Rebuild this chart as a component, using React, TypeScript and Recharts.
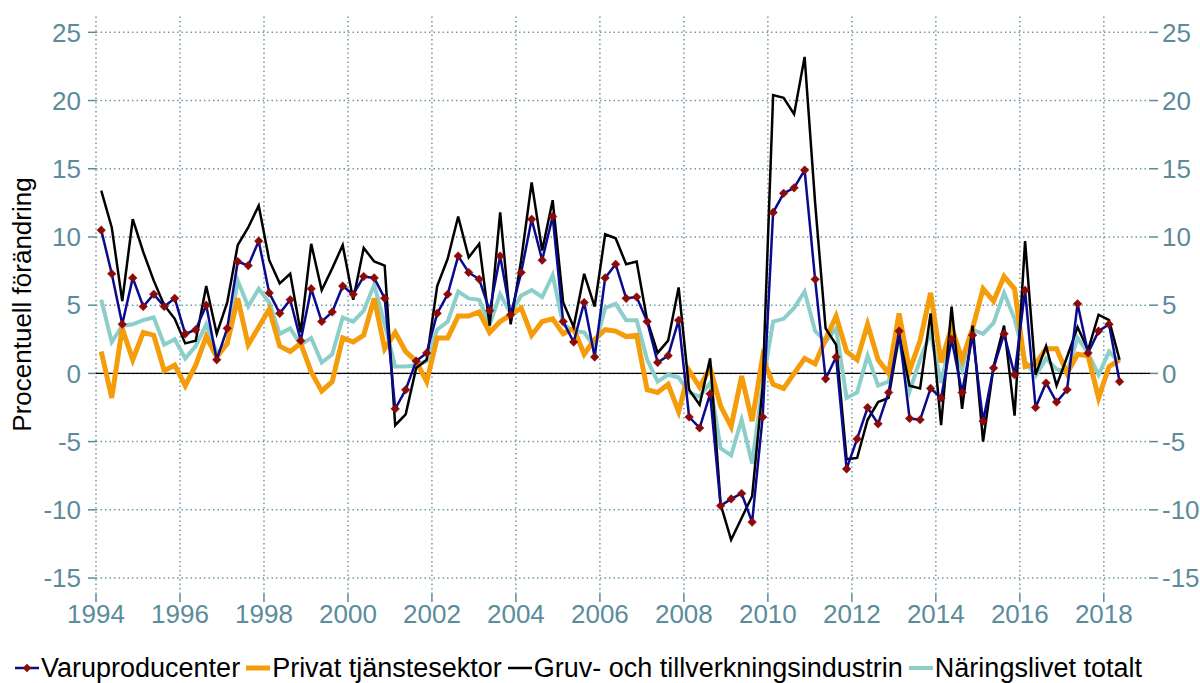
import { LineChart, Line, XAxis, YAxis, ReferenceLine } from "recharts";

// Quarterly data, 1994 Q1 - 2018 Q2
const startYear = 1994;

const varuproducenter = [
  10.5, 7.3, 3.6, 7.0, 4.9, 5.8, 4.9, 5.5, 2.9, 3.2, 5.0, 1.0,
  3.3, 8.2, 7.9, 9.7, 5.9, 4.4, 5.4, 2.4, 6.2, 3.8, 4.5, 6.4,
  5.8, 7.1, 7.0, 5.5, -2.6, -1.2, 0.9, 1.5, 4.4, 5.8, 8.6, 7.4,
  6.9, 4.6, 8.6, 4.3, 7.4, 11.3, 8.3, 11.5, 3.8, 2.3, 5.2, 1.2,
  7.0, 8.0, 5.5, 5.6, 3.8, 0.8, 1.3, 3.9, -3.2, -4.0, -1.5, -9.7,
  -9.2, -8.8, -10.9, -3.2, 11.8, 13.2, 13.6, 14.9, 6.9, -0.4, 1.2, -7.0,
  -4.8, -2.5, -3.7, -1.4, 3.1, -3.3, -3.4, -1.1, -1.8, 2.5, -1.4, 2.8,
  -3.5, 0.4, 2.9, -0.1, 6.1, -2.5, -0.7, -2.1, -1.2, 5.1, 1.5, 3.1,
  3.6, -0.6,
];

const privatTjanst = [
  1.6, -1.8, 3.3, 1.0, 3.0, 2.8, 0.2, 0.6, -0.9, 0.6, 2.7, 1.2,
  2.2, 5.5, 2.1, 3.4, 4.7, 2.0, 1.6, 2.2, 0.1, -1.3, -0.6, 2.6,
  2.3, 2.8, 5.5, 1.8, 3.0, 1.6, 0.9, -0.6, 2.6, 2.6, 4.2, 4.2,
  4.5, 3.0, 3.8, 4.3, 4.8, 2.8, 3.8, 4.0, 2.9, 3.3, 1.4, 2.5,
  3.2, 3.1, 2.7, 2.8, -1.2, -1.4, -0.8, -2.8, 0.2, -1.0, 0.4, -2.4,
  -3.9, -0.2, -3.5, 1.2, -0.8, -1.1, 0.0, 1.1, 0.7, 2.5, 4.2, 1.6,
  1.0, 3.6, 1.0, 0.0, 4.4, 0.2, 2.4, 5.9, 0.8, 3.4, 1.0, 3.3,
  6.2, 5.3, 7.1, 6.2, 0.5, 0.7, 1.8, 1.8, 0.0, 1.4, 1.3, -1.8,
  0.5, 1.0,
];

const gruvTillverkning = [
  13.4, 10.7, 5.3, 11.3, 8.9, 6.8, 5.0, 4.0, 2.2, 2.4, 6.4, 2.9,
  5.2, 9.4, 10.7, 12.3, 8.3, 6.6, 7.3, 3.0, 9.5, 6.1, 7.7, 9.4,
  5.4, 9.2, 8.2, 7.9, -3.8, -3.0, 0.4, 1.0, 6.4, 8.4, 11.5, 8.5,
  9.5, 3.5, 11.8, 3.6, 8.3, 14.0, 9.0, 12.7, 5.2, 3.4, 7.3, 4.9,
  10.2, 9.9, 8.0, 8.2, 3.9, 1.5, 2.4, 6.3, -1.2, -2.3, 1.1, -9.6,
  -12.2, -10.6, -9.0, -1.0, 20.4, 20.2, 19.0, 23.2, 12.5, 3.3, 2.1, -6.3,
  -6.2, -3.4, -2.1, -1.8, 2.8, -0.9, -1.1, 4.4, -3.8, 4.9, -2.6, 3.5,
  -5.0, 0.5, 3.5, -3.1, 9.7, -0.1, 2.0, -0.9, 1.2, 3.4, 1.7, 4.3,
  3.9, 1.0,
];

const naringslivet = [
  5.4, 2.3, 3.5, 3.6, 3.9, 4.1, 2.1, 2.5, 1.1, 2.0, 3.6, 1.5,
  2.1, 6.8, 4.9, 6.2, 5.2, 2.9, 3.3, 2.1, 2.6, 0.8, 1.4, 4.1,
  3.8, 4.6, 6.5, 3.6, 0.5, 0.5, 0.6, 0.9, 3.2, 3.8, 6.0, 5.5,
  5.4, 3.6, 5.8, 4.4, 5.7, 6.1, 5.6, 7.2, 3.6, 3.1, 3.0, 1.9,
  4.8, 5.1, 3.9, 3.9, 1.0, -0.6, -0.1, -0.3, -1.4, -1.7, -0.7, -5.5,
  -6.0, -3.4, -6.6, -0.8, 3.8, 4.0, 4.8, 6.0, 3.1, 2.3, 3.3, -1.8,
  -1.4, 1.3, -0.9, -0.6, 2.6, -1.3, 1.0, 3.0, -0.7, 2.7, 0.3, 3.2,
  2.9, 3.7, 5.9, 4.0, 0.9, -0.2, 1.1, 0.3, 0.1, 2.6, 1.5, -0.1,
  1.6, 0.8,
];

const xTicks = [1994, 1996, 1998, 2000, 2002, 2004, 2006, 2008, 2010, 2012, 2014, 2016, 2018];
const yTicks = [-15, -10, -5, 0, 5, 10, 15, 20, 25];

const NAVY = "#0a0a8c";
const MARKER = "#8b0a0a";
const ORANGE = "#f59c0a";
const BLACK = "#000000";
const TEAL = "#8ccfca";
const AXIS = "#5b8c9a";
const GRID = "#6f9ba8";
const FONT = "'Liberation Sans', Arial, sans-serif";

const data = varuproducenter.map((v, i) => ({
  t: startYear + 0.125 + i * 0.25,
  varu: v,
  privat: privatTjanst[i],
  gruv: gruvTillverkning[i],
  total: naringslivet[i],
}));

const legendItems = [
  { name: "Varuproducenter", color: NAVY, width: 2.5, marker: true },
  { name: "Privat tjänstesektor", color: ORANGE, width: 5, marker: false },
  { name: "Gruv- och tillverkningsindustrin", color: BLACK, width: 2.5, marker: false },
  { name: "Näringslivet totalt", color: TEAL, width: 4, marker: false },
];

// eslint-disable-next-line @typescript-eslint/no-explicit-any
const Diamond = (props: any) => {
  const { cx, cy } = props;
  if (cx == null || cy == null) return null;
  const r = 4.3;
  return (
    <polygon
      points={`${cx},${cy - r} ${cx + r},${cy} ${cx},${cy + r} ${cx - r},${cy}`}
      fill={MARKER}
      stroke={MARKER}
      strokeWidth={0.5}
    />
  );
};

function LegendRow() {
  return (
    <div
      style={{
        position: "absolute",
        left: 14,
        top: 652,
        display: "flex",
        alignItems: "center",
        fontFamily: FONT,
        fontSize: 27,
        lineHeight: "32px",
        color: "#000",
        whiteSpace: "nowrap",
      }}
    >
      {legendItems.map((it) => (
        <div key={it.name} style={{ display: "flex", alignItems: "center", marginRight: 5 }}>
          <svg width={26} height={20} style={{ marginRight: 1 }}>
            <line x1={1} y1={10} x2={25} y2={10} stroke={it.color} strokeWidth={it.width} />
            {it.marker && <polygon points="13,5.7 17.3,10 13,14.3 8.7,10" fill={MARKER} />}
          </svg>
          <span>{it.name}</span>
        </div>
      ))}
    </div>
  );
}

// eslint-disable-next-line @typescript-eslint/no-explicit-any
const YLabel = (props: any) => {
  const vb = props.viewBox;
  const cy = vb.y + vb.height / 2;
  return (
    <text
      x={22}
      y={cy}
      transform={`rotate(-90, 22, ${cy})`}
      textAnchor="middle"
      dominantBaseline="central"
      fill="#000"
      fontSize={26}
      fontFamily={FONT}
    >
      Procentuell förändring
    </text>
  );
};

export default function App() {
  const tick = { fill: AXIS, fontSize: 26, fontFamily: FONT };
  const grid = { stroke: GRID, strokeDasharray: "1.5 3", strokeWidth: 1.5 };
  return (
    <div style={{ position: "absolute", left: 0, top: 0, width: 1200, height: 683, overflow: "hidden", background: "#fff" }}>
      <LineChart width={1200} height={683} data={data} margin={{ top: 15, right: 0, bottom: 45, left: 0 }}>
        <XAxis
          dataKey="t"
          type="number"
          domain={[1994, 2019.1]}
          ticks={xTicks}
          allowDataOverflow
          tick={tick}
          tickLine={{ stroke: AXIS, strokeWidth: 1.5 }}
          tickSize={8}
          tickMargin={3}
          axisLine={false}
          height={44}
        />
        <YAxis
          yAxisId="left"
          domain={[-16.17, 26.27]}
          ticks={yTicks}
          allowDataOverflow
          tick={tick}
          tickLine={{ stroke: AXIS, strokeWidth: 1.5 }}
          tickSize={8}
          tickMargin={7}
          axisLine={false}
          width={96}
          label={<YLabel />}
        />
        <YAxis
          yAxisId="right"
          orientation="right"
          domain={[-16.17, 26.27]}
          ticks={yTicks}
          allowDataOverflow
          tick={tick}
          tickLine={{ stroke: AXIS, strokeWidth: 1.5 }}
          tickSize={8}
          tickMargin={4}
          axisLine={false}
          width={50}
        />
        {yTicks.map((v) => (
          <ReferenceLine key={`gy${v}`} yAxisId="left" y={v} {...grid} />
        ))}
        {xTicks.map((v) => (
          <ReferenceLine key={`gx${v}`} yAxisId="left" x={v} {...grid} />
        ))}
        <ReferenceLine yAxisId="left" y={0} stroke="#000" strokeWidth={1.2} />
        <Line yAxisId="left" dataKey="total" stroke={TEAL} strokeWidth={4} dot={false} isAnimationActive={false} />
        <Line yAxisId="left" dataKey="privat" stroke={ORANGE} strokeWidth={5} dot={false} isAnimationActive={false} />
        <Line yAxisId="left" dataKey="gruv" stroke={BLACK} strokeWidth={2.5} dot={false} isAnimationActive={false} />
        <Line yAxisId="left" dataKey="varu" stroke={NAVY} strokeWidth={2.5} dot={<Diamond />} isAnimationActive={false} />
      </LineChart>
      <LegendRow />
    </div>
  );
}
